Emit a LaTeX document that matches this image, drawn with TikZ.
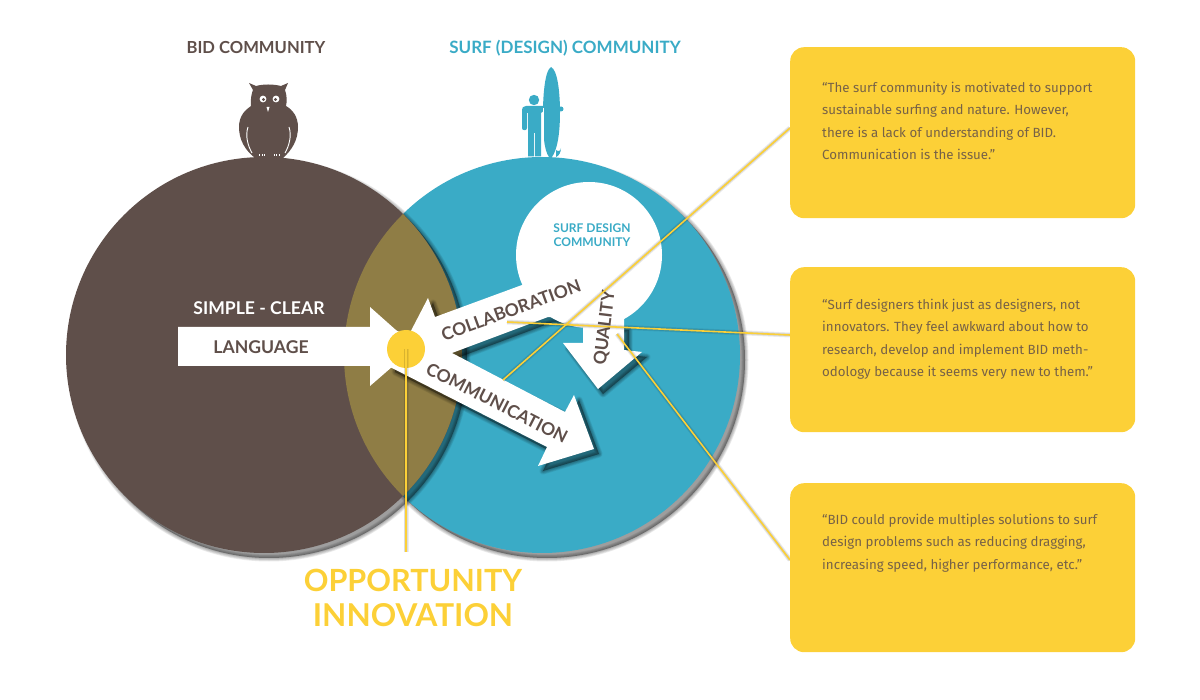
\documentclass[tikz,border=0pt]{standalone}
\usepackage{fontspec}
\setmainfont{Lato}
\newfontfamily\bodyfont{Fira Sans}
\usetikzlibrary{calc}
\definecolor{brownc}{HTML}{5F4F4A}
\definecolor{tealc}{HTML}{3AABC6}
\definecolor{lensc}{HTML}{8F7D45}
\definecolor{yell}{HTML}{FCD037}
\newcommand\softline[1]{%
  \foreach \w in {5,3.5,2}{%
    \draw[black,opacity=.07,line width=\w pt,shift={(5,5)}] #1;}}
\newcommand\softfill[1]{%
  \foreach \w in {7,5.5,4,2.5,1}{%
    \draw[black,opacity=.08,line width=\w pt,line join=round,shift={(5,5)}] #1;}
  \fill[black,opacity=.38,shift={(5,5)}] #1;}
\tikzset{
  disc/.style={circle,inner sep=0pt,minimum size=396pt},
  quotebox/.style={rectangle,rounded corners=14pt,fill=yell,inner sep=0pt,minimum width=345pt,anchor=north west},
  quotetext/.style={text=brownc!85!yell,font=\bodyfont\fontsize{13.3}{22.4}\selectfont,anchor=north west,align=left,inner sep=0pt},
  leader/.style={yell,line width=1.6pt},
  arrowlabel/.style={text=brownc,font=\bfseries\fontsize{17.5}{18}\selectfont,inner sep=0pt},
  title/.style={font=\bfseries\fontsize{#1}{18}\selectfont,inner sep=0pt},
  bigtitle/.style={text=yell,font=\bfseries\fontsize{#1}{32}\selectfont,inner sep=0pt}
}
\begin{document}
\begin{tikzpicture}[x=1pt,y=-1pt]
\useasboundingbox (0,0) rectangle (1200,700);
% shadows and discs
\softfill{(542,355) circle (198)}
\node[disc,fill=tealc] (surf) at (542,355) {};
\softfill{(264,355) circle (198)}
\node[disc,fill=brownc] (bid) at (264,355) {};
\begin{scope}
  \clip (264,355) circle (198);
  \fill[lensc] (542,355) circle (198);
\end{scope}
% arrows shadows
\softfill{(522,285) -- (435,317) -- (428,298) -- (400,352) -- (452,353) -- (548,317) -- (590,320) -- cycle}
\softfill{(583,325) -- (583,343) -- (563,343) -- (598,389) -- (642,352) -- (624,350) -- (624,325) -- cycle}
\softfill{(395,330) -- (565,412) -- (574,395) -- (594,449) -- (538,466) -- (547,447) -- (390,367) -- cycle}
% white shapes
\node[circle,fill=white,inner sep=0pt,minimum size=146pt] (design) at (589,255) {};
\fill[white] (522,285) -- (435,317) -- (428,298) -- (400,352) -- (452,353) -- (548,317) -- (600,320) -- (570,270) -- cycle;
\fill[white] (583,315) -- (583,343) -- (563,343) -- (598,389) -- (642,352) -- (624,350) -- (624,315) -- cycle;
\fill[white] (395,330) -- (452,353) -- (565,412) -- (574,395) -- (594,449) -- (538,466) -- (547,447) -- (390,367) -- cycle;
\fill[white] (178,327) -- (370,327) -- (370,307) -- (415,347) -- (370,386) -- (370,366) -- (178,366) -- cycle;
% anchors of the leader lines
\coordinate (la) at (503,380);
\coordinate (lb) at (507,322);
\coordinate (lc) at (617,334);
\coordinate (ld) at (406,552);
\coordinate (qa) at (790,128);
\coordinate (qb) at (790,335);
\coordinate (qc) at (790,560);
\node[circle,inner sep=0pt,minimum size=38pt,fill=yell] (spot) at (406,349) {};
% labels under the leaders
\node[arrowlabel,rotate=20] (tcoll) at (511,310) {COLLABORATION};
\node[arrowlabel,rotate=-27] (tcomm) at (497,403) {COMMUNICATION};
\node[arrowlabel,rotate=83] (tqual) at (605,328) {QUALITY};
% leaders
\softline{(la) -- (qa)}
\softline{(lb) -- (qb)}
\softline{(lc) -- (qc)}
\softline{(spot.center) -- (ld)}
\draw[leader] (la) -- (qa);
\draw[leader] (lb) -- (qb);
\draw[leader] (lc) -- (qc);
\draw[leader] (spot.center) -- (ld);
% boxes
\node[quotebox,minimum height=171pt] (b1) at (790,47) {};
\node[quotebox,minimum height=165pt] (b2) at (790,267) {};
\node[quotebox,minimum height=169pt] (b3) at (790,483) {};
\node[quotetext] (t1) at (822,82) {“The surf community is motivated to support\\sustainable surfing and nature. However,\\there is a lack of understanding of BID.\\Communication is the issue.”};
\node[quotetext] (t2) at (822,299) {“Surf designers think just as designers, not\\innovators. They feel awkward about how to\\research, develop and implement BID meth-\\odology because it seems very new to them.”};
\node[quotetext] (t3) at (822,514) {“BID could provide multiples solutions to surf\\design problems such as reducing dragging,\\increasing speed, higher performance, etc.”};
% texts
\node[title=16.6,text=brownc] (tbid) at (256,48) {BID COMMUNITY};
\node[title=17,text=tealc] (tsurf) at (565,48) {SURF (DESIGN) COMMUNITY};
\node[title=17.6,text=white] (tsimple) at (259,308.5) {SIMPLE - CLEAR};
\node[title=17.6,text=brownc] (tlang) at (261,347.5) {LANGUAGE};
\node[text=tealc,font=\bfseries\fontsize{12}{14}\selectfont,align=center,inner sep=0pt] (tdesign) at (592,235) {SURF DESIGN\\COMMUNITY};
\node[bigtitle=30.6] (topp) at (413,580) {OPPORTUNITY};
\node[bigtitle=31.5] (tinn) at (413,615) {INNOVATION};
% owl
\fill[brownc] (255,158) .. controls (245,150) and (239,140) .. (239,127) .. controls (239,116) and (245,110) .. (251,106) .. controls (250,100) and (252,92) .. (253,90) -- (249,83) -- (256,86) .. controls (263,84) and (273,84) .. (281,86) -- (288,83) -- (285,90) .. controls (287,95) and (287,102) .. (286,106) .. controls (293,110) and (298,117) .. (298,127) .. controls (298,140) and (292,150) .. (283,158) -- cycle;
\draw[white,line width=0.9pt] (248,127) .. controls (245,136) and (248,146) .. (252,153);
\draw[white,line width=0.9pt] (289,127) .. controls (292,136) and (289,146) .. (285,153);
\fill[white] (263,99) circle (3.4) (276,99) circle (3.4);
\fill[brownc] (263.5,99.5) circle (1.7) (275.5,99.5) circle (1.7);
\fill[white] (266.5,107) -- (269.5,107) -- (268,112) -- cycle;
\foreach \x in {259.5,262,264.5,274,276.5,279}{\draw[white,line width=0.7pt] (\x,154.5) -- (\x,156.5);}
% surfer
\fill[tealc] (551,67) .. controls (558,70) and (560,95) .. (560,112) .. controls (560,135) and (557,150) .. (552,157) -- (549,157) .. controls (544,150) and (543,135) .. (543,112) .. controls (543,95) and (545,70) .. (551,67) -- cycle;
\fill[tealc] (556,150) .. controls (558,152) and (561,151) .. (561,148) .. controls (561,152) and (559,156) .. (556,157) -- cycle;
\fill[tealc] (561,109) circle (2.5);
\fill[tealc] (534,100) circle (5.2);
\fill[tealc] (545,106) -- (526,106) .. controls (523,106) and (522,108) .. (522,110) -- (522,128) .. controls (522,131) and (527,131) .. (527,128) -- (527,113) -- (528,113) -- (528,156.5) -- (534,156.5) -- (534,133) -- (535,133) -- (535,156.5) -- (541,156.5) -- (541,113) -- (545,110) -- cycle;
\draw[white,line width=0.8pt] (543.3,108) -- (543.3,150);
\end{tikzpicture}
\end{document}
